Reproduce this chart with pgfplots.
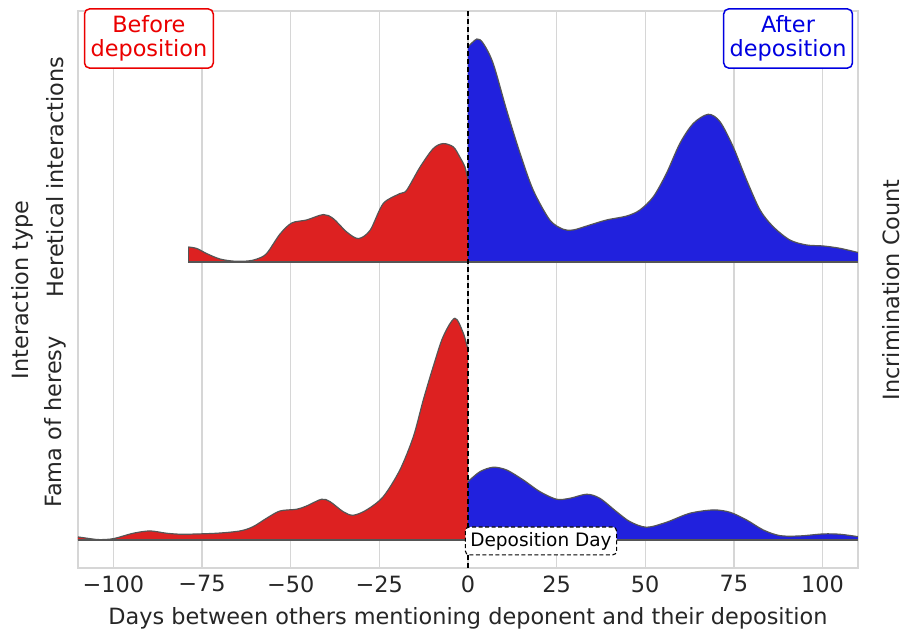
\documentclass[border=0pt]{standalone}
\usepackage{fontspec}
\setmainfont{DejaVu Sans}
\usepackage{pgfplots}
\usepackage{pgfplotstable}
\pgfplotsset{compat=1.18}
\usepgfplotslibrary{fillbetween}
\definecolor{redfill}{RGB}{221,33,33}
\definecolor{bluefill}{RGB}{33,33,221}
\definecolor{edge}{RGB}{85,85,85}
\definecolor{gridc}{RGB}{214,214,214}
\definecolor{txt}{RGB}{38,38,38}
\definecolor{boxred}{RGB}{235,0,0}
\definecolor{boxblue}{RGB}{0,0,225}

% heights above each row's baseline (top row baseline 306, bottom row baseline 28)
\pgfplotstableread{
x h
-78.9 15
-76.5 13.5
-73.7 8.4
-70 3
-66 0.8
-62 1
-59.5 3
-56.8 8.4
-53 28
-49.7 39
-45.5 42
-40.8 47.4
-38 43.4
-34.2 30
-30.9 23.4
-27.6 31.7
-23.9 58.4
-19.2 68.4
-17.3 71.7
-13.5 95
-9.8 113.4
-7 118.4
-4.1 115
-2.3 105
-0.85 95
0 82
}\topred
\pgfplotstableread{
x h
0 215
2.5 223
4.3 218.7
7.1 198.7
10.9 152
14.7 108.7
18.4 72
23.1 42
26.9 32.7
29.7 32
34.4 37
39.1 42
44.8 46
48.5 52
52.3 65.3
56.0 88.7
59.8 118.7
63.6 138.7
67.8 147.7
71.1 140.3
74.8 115.3
78.6 82
82.4 52
86.1 35.3
90.8 22
95.5 17
100.2 16
104.9 13.7
110 9.5
}\topblue
\pgfplotstableread{
x h
-110 3
-106 1
-103.8 0.3
-100 1.3
-94.4 6.7
-89.7 9
-85 6.7
-80.3 5.7
-70.9 6.7
-64.3 9
-60.6 13.3
-56.8 21.7
-53 29
-48.3 30.7
-45.5 34
-41.3 40.7
-38.9 38.3
-35.2 28.3
-32.4 24.7
-28.6 30
-23.9 43.3
-19.2 70
-15.4 103.3
-12.6 140
-9.8 173.3
-7 203.3
-3.7 221.7
-1.3 206.7
0 190
}\botred
\pgfplotstableread{
x h
0 58.3
3.4 68.3
7.1 72.7
10.9 70
15.6 60
20.3 48.3
25 40.7
28.8 41.7
33.5 45.7
37.2 41.7
41.9 28.3
45.7 18.3
50.4 12.7
56 17.7
62.6 26.7
69.2 30
73.9 27.7
78.6 20
83.3 10
88 4.3
93.6 4
100.2 6
104.9 5.7
110 3.3
}\botblue

\begin{document}
\fontsize{22.4bp}{26bp}\selectfont
\begin{tikzpicture}
\begin{axis}[
  width=780bp, height=557bp, scale only axis,
  xmin=-110, xmax=110, ymin=0, ymax=557,
  xtick={-100,-75,-50,-25,0,25,50,75,100},
  xticklabels={−100,−75,−50,−25,0,25,50,75,100},
  ytick=\empty,
  xmajorgrids,
  major grid style={color=gridc, line width=1.4bp},
  axis line style={color=gridc, line width=1.6bp},
  major tick length=0pt,
  tick label style={font=\fontsize{22.4bp}{26bp}\selectfont, text=txt},
  xlabel={Days between others mentioning deponent and their deposition},
  xlabel style={font=\fontsize{22.4bp}{26bp}\selectfont, text=txt},
  clip=false,
]
% top row: Heretical interactions
\addplot[name path=tr, draw=none, smooth] table[x=x, y expr=\thisrow{h}+306] {\topred};
\addplot[name path=trb, draw=none] coordinates {(-78.9,306) (0,306)};
\addplot[fill=redfill, draw=none] fill between[of=tr and trb];
\addplot[name path=tb, draw=none, smooth] table[x=x, y expr=\thisrow{h}+306] {\topblue};
\addplot[name path=tbb, draw=none] coordinates {(0,306) (110,306)};
\addplot[fill=bluefill, draw=none] fill between[of=tb and tbb];
\addplot[edge, line width=1.2bp, smooth] table[x=x, y expr=\thisrow{h}+306] {\topred};
\addplot[edge, line width=1.2bp, smooth] table[x=x, y expr=\thisrow{h}+306] {\topblue};
\addplot[edge, line width=1.2bp] coordinates {(-78.9,321) (-78.9,306) (110,306)};
% bottom row: Fama of heresy
\addplot[name path=br, draw=none, smooth] table[x=x, y expr=\thisrow{h}+28] {\botred};
\addplot[name path=brb, draw=none] coordinates {(-110,28) (0,28)};
\addplot[fill=redfill, draw=none] fill between[of=br and brb];
\addplot[name path=bb, draw=none, smooth] table[x=x, y expr=\thisrow{h}+28] {\botblue};
\addplot[name path=bbb, draw=none] coordinates {(0,28) (110,28)};
\addplot[fill=bluefill, draw=none] fill between[of=bb and bbb];
\addplot[edge, line width=1.2bp, smooth] table[x=x, y expr=\thisrow{h}+28] {\botred};
\addplot[edge, line width=1.2bp, smooth] table[x=x, y expr=\thisrow{h}+28] {\botblue};
\addplot[edge, line width=1.2bp] coordinates {(-110,28) (110,28)};
% deposition day line
\addplot[black, line width=1.3bp, dash pattern=on 5bp off 3bp] coordinates {(0,0) (0,557)};

\node[draw=black, dash pattern=on 4bp off 2.5bp, line width=1.1bp, rounded corners=4bp, fill=white,
      font=\fontsize{18.5bp}{21bp}\selectfont, text=black, inner xsep=5bp, inner ysep=5bp]
  at (axis cs:20.6,27) {Deposition Day};
\node[draw=boxred, line width=1.5bp, rounded corners=5bp, fill=white, text=boxred, align=center,
      inner xsep=6bp, inner ysep=6.5bp, font=\fontsize{22.4bp}{24.5bp}\selectfont]
  at (axis cs:-90,529.5) {Before\\deposition};
\node[draw=boxblue, line width=1.5bp, rounded corners=5bp, fill=white, text=boxblue, align=center,
      inner xsep=6bp, inner ysep=6.5bp, font=\fontsize{22.4bp}{24.5bp}\selectfont]
  at (axis cs:90.3,529.5) {After\\deposition};

\node[rotate=90, inner sep=0pt, text=txt] at (axis cs:-116.5,391) {Heretical interactions};
\node[rotate=90, inner sep=0pt, text=txt] at (axis cs:-116.5,146) {Fama of heresy};
\node[rotate=90, inner sep=0pt, text=txt] at (axis cs:-125.8,278) {Interaction type};
\node[rotate=90, inner sep=0pt, text=txt] at (axis cs:119.3,278) {Incrimination Count};

\coordinate (bl) at (axis cs:-132,-69);
\coordinate (tr) at (axis cs:123,568);
\end{axis}
\pgfresetboundingbox
\useasboundingbox (bl) rectangle (tr);
\end{tikzpicture}
\end{document}
